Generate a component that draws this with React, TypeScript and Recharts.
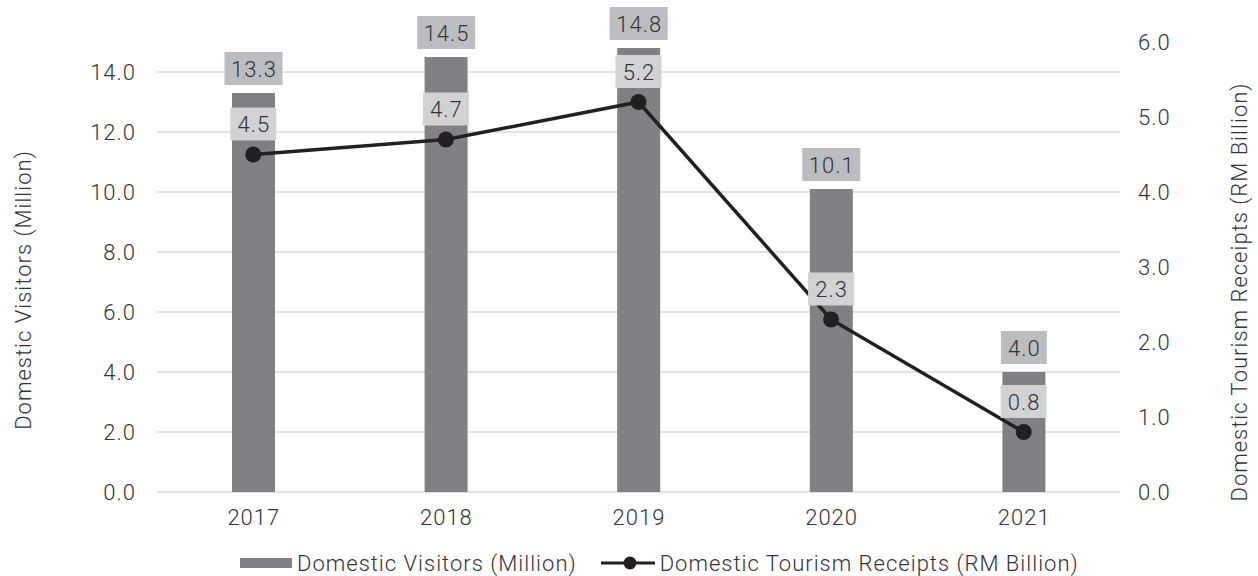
import React from 'react';
import {
  ComposedChart,
  Bar,
  Line,
  XAxis,
  YAxis,
  CartesianGrid,
  Legend,
  LabelList,
} from 'recharts';

const years = ['2017', '2018', '2019', '2020', '2021'];
const visitors = [13.3, 14.5, 14.8, 10.1, 4.0];
const receipts = [4.5, 4.7, 5.2, 2.3, 0.8];
const leftTicks = [0, 2, 4, 6, 8, 10, 12, 14];
const rightTicks = [0, 1, 2, 3, 4, 5, 6];

const data = years.map((year, i) => ({ year, visitors: visitors[i], receipts: receipts[i] }));

const FONT = 'Roboto, "Liberation Sans", Arial, sans-serif';
const TEXT = '#333333';
const BAR = '#808184';
const LINE = '#231f20';

const textStyle = { fontFamily: FONT, fontWeight: 300, fontSize: 22, letterSpacing: 1, fill: TEXT };

const LeftTick = ({ x, y, payload }: any) => (
  <text x={x - 21} y={y} textAnchor="end" dominantBaseline="central" style={textStyle}>
    {Number(payload.value).toFixed(1)}
  </text>
);

const RightTick = ({ x, y, payload }: any) => (
  <text x={x + 18} y={y} textAnchor="start" dominantBaseline="central" style={textStyle}>
    {Number(payload.value).toFixed(1)}
  </text>
);

const XTick = ({ x, y, payload }: any) => (
  <text x={x + 0.5} y={y + 25} textAnchor="middle" dominantBaseline="central" style={textStyle}>
    {payload.value}
  </text>
);

// grey box sitting above the bar top
const BarValueLabel = ({ x, y, width, value }: any) => {
  const s = Number(value).toFixed(1);
  const w = 12 * s.length + 10;
  const cx = x + width / 2;
  return (
    <g>
      <rect x={cx - w / 2} y={y - 41} width={w} height={33} fill="#bcbdc0" />
      <text x={cx + 0.5} y={y - 24} textAnchor="middle" dominantBaseline="central" style={textStyle}>
        {s}
      </text>
    </g>
  );
};

// light box above each point of the line
const LineValueLabel = ({ x, y, value }: any) => {
  const s = Number(value).toFixed(1);
  const w = 12 * s.length + 10;
  return (
    <g>
      <rect x={x - w / 2} y={y - 47} width={w} height={33} fill="#d1d2d4" />
      <text x={x + 0.5} y={y - 30} textAnchor="middle" dominantBaseline="central" style={textStyle}>
        {s}
      </text>
    </g>
  );
};

const LegendContent = () => (
  <div
    style={{
      height: 24,
      display: 'flex',
      alignItems: 'center',
      paddingLeft: 240,
      fontFamily: FONT,
      fontWeight: 300,
      fontSize: 22,
      letterSpacing: 1,
      color: TEXT,
      whiteSpace: 'nowrap',
    }}
  >
    <span style={{ display: 'inline-block', width: 52, height: 10, background: BAR, marginRight: 5 }} />
    <span>Domestic Visitors (Million)</span>
    <svg width={54} height={16} style={{ marginLeft: 24, marginRight: 5 }}>
      <line x1={0} y1={8} x2={54} y2={8} stroke={LINE} strokeWidth={3} />
      <circle cx={29} cy={8} r={6.5} fill={LINE} />
    </svg>
    <span>Domestic Tourism Receipts (RM Billion)</span>
  </div>
);

const AxisTitle = ({ x, y, text }: { x: number; y: number; text: string }) => (
  <text
    x={x}
    y={y}
    transform={`rotate(-90 ${x} ${y})`}
    textAnchor="middle"
    dominantBaseline="central"
    style={textStyle}
  >
    {text}
  </text>
);

export default function App() {
  return (
    <div style={{ position: 'absolute', left: 0, top: 0, width: 1258, height: 576, background: '#fff' }}>
      <ComposedChart width={1258} height={576} data={data} margin={{ top: 42, right: 0, bottom: 20, left: 0 }}>
        <CartesianGrid yAxisId="left" vertical={false} stroke="#d9d9d9" strokeWidth={1.5} syncWithTicks />
        <XAxis
          dataKey="year"
          height={40}
          axisLine={false}
          tickLine={false}
          tickSize={0}
          tickMargin={0}
          tick={<XTick />}
        />
        <YAxis
          yAxisId="left"
          orientation="left"
          width={157}
          domain={[0, 15]}
          ticks={leftTicks}
          axisLine={false}
          tickLine={false}
          tickSize={0}
          tickMargin={0}
          tick={<LeftTick />}
          label={(p: any) => (
            <AxisTitle x={p.viewBox.x + 23} y={p.viewBox.y + p.viewBox.height / 2 + 23} text="Domestic Visitors (Million)" />
          )}
        />
        <YAxis
          yAxisId="right"
          orientation="right"
          width={138}
          domain={[0, 6]}
          ticks={rightTicks}
          axisLine={false}
          tickLine={false}
          tickSize={0}
          tickMargin={0}
          tick={<RightTick />}
          label={(p: any) => (
            <AxisTitle
              x={p.viewBox.x + 119}
              y={p.viewBox.y + p.viewBox.height / 2 + 25}
              text="Domestic Tourism Receipts (RM Billion)"
            />
          )}
        />
        <Legend verticalAlign="bottom" content={<LegendContent />} wrapperStyle={{ left: 0, bottom: 1, width: 1258 }} />
        <Bar yAxisId="left" dataKey="visitors" name="Domestic Visitors (Million)" fill={BAR} barSize={43} isAnimationActive={false}>
          <LabelList dataKey="visitors" content={<BarValueLabel />} />
        </Bar>
        <Line
          yAxisId="right"
          type="linear"
          dataKey="receipts"
          name="Domestic Tourism Receipts (RM Billion)"
          stroke={LINE}
          strokeWidth={3.5}
          dot={{ r: 8, fill: LINE, stroke: LINE, strokeWidth: 0 }}
          activeDot={false}
          isAnimationActive={false}
        >
          <LabelList dataKey="receipts" content={<LineValueLabel />} />
        </Line>
      </ComposedChart>
    </div>
  );
}
